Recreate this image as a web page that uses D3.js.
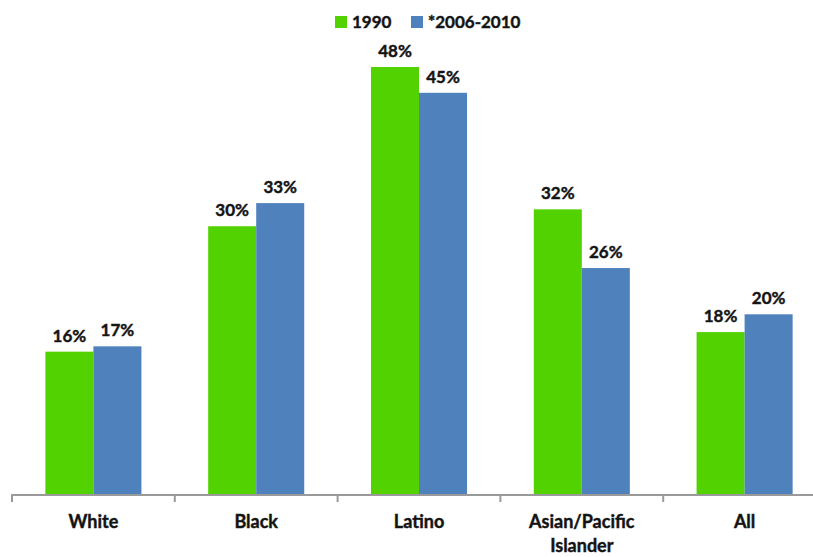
<!DOCTYPE html>
<html>
<head>
<meta charset="utf-8">
<script src="https://cdn.jsdelivr.net/npm/d3@7"></script>
<style>
  body { margin: 0; background: #fff; }
  text { font-family: Lato, "Open Sans", sans-serif; font-weight: bold; fill: #111; stroke: #222; stroke-width: 0.45px; }
</style>
</head>
<body>
<div id="chart"></div>
<script>
// ******************************** DATA ***************************************
var categories = ["White", "Black", "Latino", "Asian/Pacific Islander", "All"];
var seriesNames = ["1990", "*2006-2010"];
var values1990 = [16.0, 30.1, 48.0, 32.0, 18.2];
var values2010 = [16.6, 32.7, 45.1, 25.4, 20.2];
var labels1990 = ["16%", "30%", "48%", "32%", "18%"];
var labels2010 = ["17%", "33%", "45%", "26%", "20%"];
var colors = ["#52d200", "#4f81bd"];

// ****************************** CANVAS SET UP ********************************
var svgWidth = 813,
    svgHeight = 557;

var svg = d3.select("#chart")
  .append("svg")
    .attr("width", svgWidth)
    .attr("height", svgHeight);

var baseline = 494;

// ******************************* SCALES **************************************
var xScale = d3.scaleBand()
  .domain(categories)
  .range([12, 826])
  .paddingInner(0.41)
  .paddingOuter(0.205);

var xSub = d3.scaleBand()
  .domain(seriesNames)
  .range([0, xScale.bandwidth()]);

var yScale = d3.scaleLinear()
  .domain([0, 48])
  .range([baseline, 67]);

// build rows for the bars
var rows = [];
categories.forEach(function(c, i) {
  rows.push({cat: c, series: seriesNames[0], value: values1990[i], label: labels1990[i], color: colors[0]});
  rows.push({cat: c, series: seriesNames[1], value: values2010[i], label: labels2010[i], color: colors[1]});
});

// ******************************** BARS ***************************************
svg.selectAll("rect.bar")
  .data(rows)
  .enter()
  .append("rect")
    .attr("class", "bar")
    .attr("x", d => xScale(d.cat) + xSub(d.series))
    .attr("y", d => yScale(d.value))
    .attr("width", xSub.bandwidth())
    .attr("height", d => baseline - yScale(d.value))
    .attr("fill", d => d.color);

// value labels
svg.selectAll("text.val")
  .data(rows)
  .enter()
  .append("text")
    .attr("class", "val")
    .attr("x", d => xScale(d.cat) + xSub(d.series) + xSub.bandwidth() / 2)
    .attr("y", d => yScale(d.value) - 10)
    .attr("text-anchor", "middle")
    .style("font-size", "17px")
    .text(d => d.label);

// ********************************* AXIS **************************************
var ticks = d3.range(categories.length + 1).map(i => xScale.range()[0] + i * xScale.step());

svg.append("line")
  .attr("x1", ticks[0]).attr("x2", svgWidth)
  .attr("y1", baseline + 1).attr("y2", baseline + 1)
  .attr("stroke", "#9a9a9a")
  .attr("stroke-width", 2);

svg.selectAll("line.tick")
  .data(ticks)
  .enter()
  .append("line")
    .attr("class", "tick")
    .attr("x1", d => d).attr("x2", d => d)
    .attr("y1", baseline).attr("y2", baseline + 8)
    .attr("stroke", "#9a9a9a")
    .attr("stroke-width", 2);

var catLabels = svg.selectAll("text.cat")
  .data(categories)
  .enter()
  .append("text")
    .attr("class", "cat")
    .attr("x", d => xScale(d) + xScale.bandwidth() / 2)
    .attr("y", 528)
    .attr("text-anchor", "middle")
    .style("font-size", "18px");

catLabels.each(function(d) {
  var t = d3.select(this);
  var parts = d === "Asian/Pacific Islander" ? ["Asian/Pacific", "Islander"] : [d];
  parts.forEach(function(p, i) {
    t.append("tspan")
      .attr("x", t.attr("x"))
      .attr("dy", i === 0 ? 0 : 24)
      .text(p);
  });
});

// ******************************** LEGEND *************************************
var legendX = [335, 411];
var legend = svg.selectAll("g.legend")
  .data(seriesNames)
  .enter()
  .append("g")
    .attr("class", "legend")
    .attr("transform", (d, i) => `translate(${legendX[i]}, 16)`);

legend.append("rect")
  .attr("width", 12)
  .attr("height", 12)
  .attr("fill", (d, i) => colors[i]);

legend.append("text")
  .attr("x", 17)
  .attr("y", 12)
  .style("font-size", "17px")
  .text(d => d);
</script>
</body>
</html>
